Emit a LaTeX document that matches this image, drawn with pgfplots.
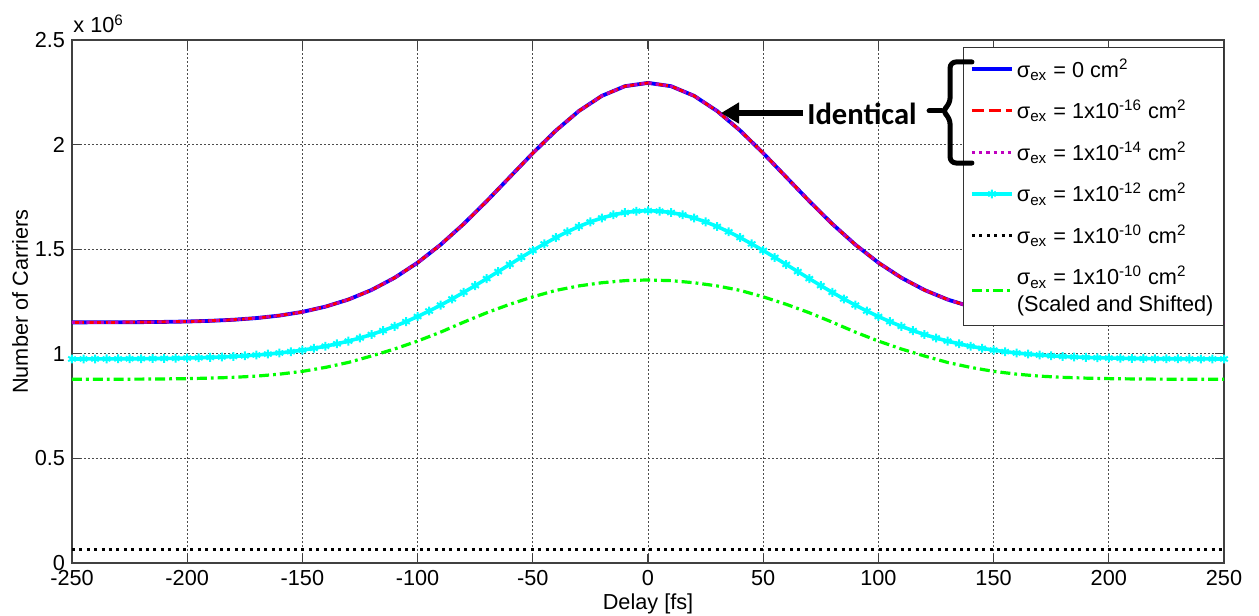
\documentclass[border=0pt]{standalone}
\usepackage{pgfplots}
\pgfplotsset{compat=1.18}
\usepackage{pgfplotstable}
\usepackage{fontspec}
\setmainfont{Liberation Sans}
\newfontfamily\calibri{Carlito}
\usetikzlibrary{arrows.meta}
\definecolor{mmag}{rgb}{0.75,0,0.75}
\definecolor{mcyan}{rgb}{0,1,1}
\definecolor{mgreen}{rgb}{0,1,0}
\definecolor{mblue}{rgb}{0,0,1}
\definecolor{mred}{rgb}{1,0,0}

% sigma_ex = 0, 1e-16, 1e-14 (identical), units of 1e6
\pgfplotstableread{
x y
-250 1.1502
-240 1.1504
-230 1.1507
-220 1.1514
-210 1.1525
-200 1.1544
-190 1.1576
-180 1.1627
-170 1.1707
-160 1.1827
-150 1.2003
-140 1.2253
-130 1.2595
-120 1.3050
-110 1.3633
-100 1.4355
-90 1.5217
-80 1.6207
-70 1.7298
-60 1.8445
-50 1.9591
-40 2.0669
-30 2.1605
-20 2.2331
-10 2.2792
0 2.2950
10 2.2792
20 2.2331
30 2.1605
40 2.0669
50 1.9591
60 1.8445
70 1.7298
80 1.6207
90 1.5217
100 1.4355
110 1.3633
120 1.3050
130 1.2595
140 1.2253
150 1.2003
160 1.1827
170 1.1707
180 1.1627
190 1.1576
200 1.1544
210 1.1525
220 1.1514
230 1.1507
240 1.1504
250 1.1502
}\tblIdent

% sigma_ex = 1e-12
\pgfplotstableread{
x y
-250 0.9753
-245 0.9754
-240 0.9755
-235 0.9757
-230 0.9760
-225 0.9763
-220 0.9767
-215 0.9772
-210 0.9779
-205 0.9787
-200 0.9798
-195 0.9811
-190 0.9828
-185 0.9848
-180 0.9874
-175 0.9904
-170 0.9941
-165 0.9986
-160 1.0039
-155 1.0102
-150 1.0176
-145 1.0262
-140 1.0362
-135 1.0477
-130 1.0607
-125 1.0756
-120 1.0922
-115 1.1108
-110 1.1312
-105 1.1537
-100 1.1781
-95 1.2045
-90 1.2326
-85 1.2624
-80 1.2936
-75 1.3260
-70 1.3593
-65 1.3931
-60 1.4271
-55 1.4608
-50 1.4937
-45 1.5254
-40 1.5555
-35 1.5833
-30 1.6086
-25 1.6307
-20 1.6494
-15 1.6643
-10 1.6752
-5 1.6818
0 1.6840
5 1.6818
10 1.6752
15 1.6643
20 1.6494
25 1.6307
30 1.6086
35 1.5833
40 1.5555
45 1.5254
50 1.4937
55 1.4608
60 1.4271
65 1.3931
70 1.3593
75 1.3260
80 1.2936
85 1.2624
90 1.2326
95 1.2045
100 1.1781
105 1.1537
110 1.1312
115 1.1108
120 1.0922
125 1.0756
130 1.0607
135 1.0477
140 1.0362
145 1.0262
150 1.0176
155 1.0102
160 1.0039
165 0.9986
170 0.9941
175 0.9904
180 0.9874
185 0.9848
190 0.9828
195 0.9811
200 0.9798
205 0.9787
210 0.9779
215 0.9772
220 0.9767
225 0.9763
230 0.9760
235 0.9757
240 0.9755
245 0.9754
250 0.9753
}\tblTwelve

% sigma_ex = 1e-10
\pgfplotstableread{
x y
-250 0.065
-125 0.065
0 0.065
125 0.065
250 0.065
}\tblTen

% sigma_ex = 1e-10 scaled and shifted
\pgfplotstableread{
x y
-250 0.8780
-240 0.8780
-230 0.8785
-220 0.8790
-210 0.8799
-200 0.8813
-190 0.8837
-180 0.8875
-170 0.8932
-160 0.9027
-150 0.9160
-140 0.9350
-130 0.9588
-120 0.9896
-110 1.0229
-100 1.0609
-90 1.1036
-80 1.1511
-70 1.1963
-60 1.2366
-50 1.2723
-40 1.3031
-30 1.3245
-20 1.3397
-10 1.3497
0 1.3530
10 1.3497
20 1.3397
30 1.3245
40 1.3031
50 1.2723
60 1.2366
70 1.1963
80 1.1511
90 1.1036
100 1.0609
110 1.0229
120 0.9896
130 0.9588
140 0.9350
150 0.9160
160 0.9027
170 0.8932
180 0.8875
190 0.8837
200 0.8813
210 0.8799
220 0.8790
230 0.8785
240 0.8780
250 0.8780
}\tblTenS

\begin{document}
\begin{tikzpicture}
\begin{axis}[
  scale only axis, width=576pt, height=261.5pt,
  xmin=-250, xmax=250, ymin=0, ymax=2.5,
  xtick={-250,-200,-150,-100,-50,0,50,100,150,200,250},
  ytick={0,0.5,1,1.5,2,2.5},
  yticklabels={0,0.5,1,1.5,2,2.5},
  grid=major,
  major grid style={line width=0.45pt, black!70, dash pattern=on 1pt off 1pt},
  axis line style={black!75, line width=0.55pt},
  tick style={black!75, line width=0.55pt},
  tick align=inside, tick pos=both, major tick length=4.5pt,
  font=\fontsize{10.85}{13}\selectfont,
  ticklabel style={font=\fontsize{10.85}{13}\selectfont},
  /pgf/number format/assume math mode=true,
  xlabel={Delay [fs]}, ylabel={Number of Carriers},
  xlabel style={at={(rel axis cs:0.5,-0.0784)}, anchor=center},
  ylabel style={at={(rel axis cs:-0.0451,0.5)}, anchor=center},
  clip=false,
  legend image code/.code={\draw[mark repeat=2,mark phase=2] plot coordinates {(0pt,0pt) (10pt,0pt) (20pt,0pt)};},
  legend style={at={(rel axis cs:1,0.9866)}, anchor=north east,
    draw=black!80, line width=0.5pt, fill=white,
    font=\fontsize{10.85}{13.5}\selectfont,
    row sep=7pt, inner xsep=3.5pt, inner ysep=4pt,
    cells={anchor=west, align=left},
    nodes={inner sep=1.5pt}},
]
\addplot[mblue, line width=1.9pt] table[x=x,y=y] {\tblIdent};
\addlegendentry{σ\textsubscript{ex} = 0 cm\textsuperscript{2}}
\addplot[mred, line width=1.5pt, dash pattern=on 6pt off 2.5pt] table[x=x,y=y] {\tblIdent};
\addlegendentry{σ\textsubscript{ex} = 1x10\textsuperscript{-16} cm\textsuperscript{2}}
\addplot[mmag, line width=1.5pt, dash pattern=on 1.6pt off 2pt] table[x=x,y=y] {\tblIdent};
\addlegendentry{σ\textsubscript{ex} = 1x10\textsuperscript{-14} cm\textsuperscript{2}}
\addplot[mcyan, line width=1.8pt, mark=asterisk, mark size=2.2pt, mark options={solid, line width=1pt}] table[x=x,y=y] {\tblTwelve};
\addlegendentry{σ\textsubscript{ex} = 1x10\textsuperscript{-12} cm\textsuperscript{2}}
\addplot[black, line width=1.5pt, dash pattern=on 1.5pt off 2.2pt] table[x=x,y=y] {\tblTen};
\addlegendentry{σ\textsubscript{ex} = 1x10\textsuperscript{-10} cm\textsuperscript{2}}
\addplot[mgreen, line width=1.6pt, dash pattern=on 5pt off 2pt on 1.4pt off 2pt] table[x=x,y=y] {\tblTenS};
\addlegendentry{σ\textsubscript{ex} = 1x10\textsuperscript{-10} cm\textsuperscript{2}\\(Scaled and Shifted)}

\coordinate (bA) at (axis cs:140.6,2.395);
\coordinate (bB) at (axis cs:131.1,2.395);
\coordinate (bC) at (axis cs:131.1,2.194);
\coordinate (bD) at (axis cs:127.6,2.161);
\coordinate (bE) at (axis cs:131.1,2.127);
\coordinate (bF) at (axis cs:131.1,1.912);
\coordinate (bG) at (axis cs:140.6,1.912);
\coordinate (bT) at (axis cs:122.0,2.161);
\coordinate (arT) at (axis cs:67.3,2.151);
\coordinate (arH) at (axis cs:31.7,2.151);
\coordinate (txt) at (axis cs:69.0,2.146);
\coordinate (bbsw) at (rel axis cs:-0.0625,-0.1013);
\coordinate (bbne) at (rel axis cs:1.0304,1.0765);
\node[anchor=base west, inner sep=0pt, font=\fontsize{10.85}{13}\selectfont] at ([xshift=0.5pt,yshift=3.5pt]rel axis cs:0,1) {x 10\textsuperscript{6}};
\end{axis}
\draw[line width=2.5pt, line cap=round, line join=round, rounded corners=3pt] (bA) -- (bB) -- (bC) -- (bD) -- (bE) -- (bF) -- (bG);
\draw[line width=2.5pt, line cap=round] (bD) -- (bT);
\draw[line width=2.75pt, -{Triangle[length=9pt,width=10pt]}] (arT) -- (arH);
\node[anchor=west, inner sep=0pt, font=\calibri\bfseries\fontsize{15.3}{18}\selectfont] at (txt) {Identical};
\pgfresetboundingbox
\path[use as bounding box] (bbsw) rectangle (bbne);
\end{tikzpicture}
\end{document}
